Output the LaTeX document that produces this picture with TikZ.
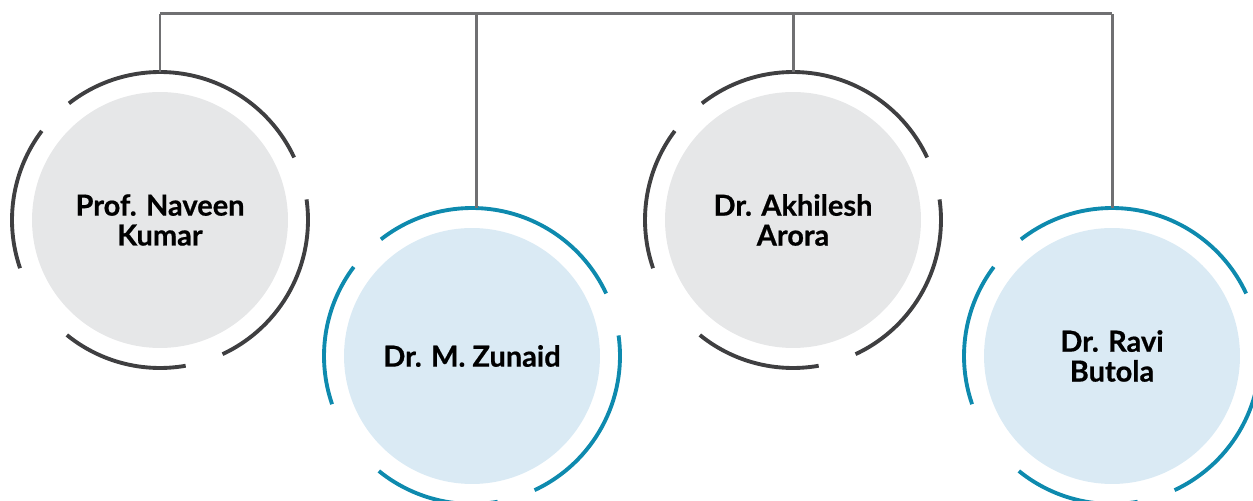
\documentclass[tikz,border=0pt]{standalone}
\usepackage{fontspec}
\setmainfont{Lato}
\newfontfamily\namefont{Lato Bold}[FakeBold=0.6]
\definecolor{busgray}{HTML}{707072}
\definecolor{arcgray}{HTML}{3F3F41}
\definecolor{arcteal}{HTML}{0E8AAE}
\definecolor{fillgray}{HTML}{E6E7E8}
\definecolor{fillblue}{HTML}{DAEAF4}
\begin{document}
\begin{tikzpicture}[x=0.02cm,y=0.02cm,
  person/.style={circle, minimum size=5.12cm, inner sep=0pt, align=center,
    font=\namefont\fontsize{16.5}{17}\selectfont, text=black},
  grayperson/.style={person, fill=fillgray},
  blueperson/.style={person, fill=fillblue},
  bus/.style={draw=busgray, line width=1.7pt},
  ring/.style={line width=2.2pt},
]
\useasboundingbox (0,0) rectangle (1253,500);
\clip (0,0) rectangle (1253,500);
% people
\node[grayperson] (c1) at (160,280) {Prof. Naveen\\Kumar};
\node[blueperson] (c2) at (472,144) {Dr. M. Zunaid};
\node[grayperson] (c3) at (793,280) {Dr. Akhilesh\\Arora};
\node[blueperson] (c4) at (1112,144) {Dr. Ravi\\Butola};
% broken rings
\foreach \c/\col in {c1/arcgray, c2/arcteal, c3/arcgray, c4/arcteal}{
  \draw[ring, draw=\col] ([shift={(25:148)}]\c.center) arc[start angle=25, end angle=128, radius=2.96cm];
  \draw[ring, draw=\col] ([shift={(143:148)}]\c.center) arc[start angle=143, end angle=199, radius=2.96cm];
  \draw[ring, draw=\col] ([shift={(231:148)}]\c.center) arc[start angle=231, end angle=280, radius=2.96cm];
  \draw[ring, draw=\col] ([shift={(295:148)}]\c.center) arc[start angle=295, end angle=368, radius=2.96cm];
}
% bus
\coordinate (b1) at (160,486);
\coordinate (b2) at (476,486);
\coordinate (b3) at (793,486);
\coordinate (b4) at (1112,486);
\coordinate (t1) at (160,428);
\coordinate (t2) at (476,292);
\coordinate (t3) at (793,428);
\coordinate (t4) at (1112,292);
\draw[bus] (b1) -- (b4);
\draw[bus] (b1) -- (t1);
\draw[bus] (b2) -- (t2);
\draw[bus] (b3) -- (t3);
\draw[bus] (b4) -- (t4);
\end{tikzpicture}
\end{document}
